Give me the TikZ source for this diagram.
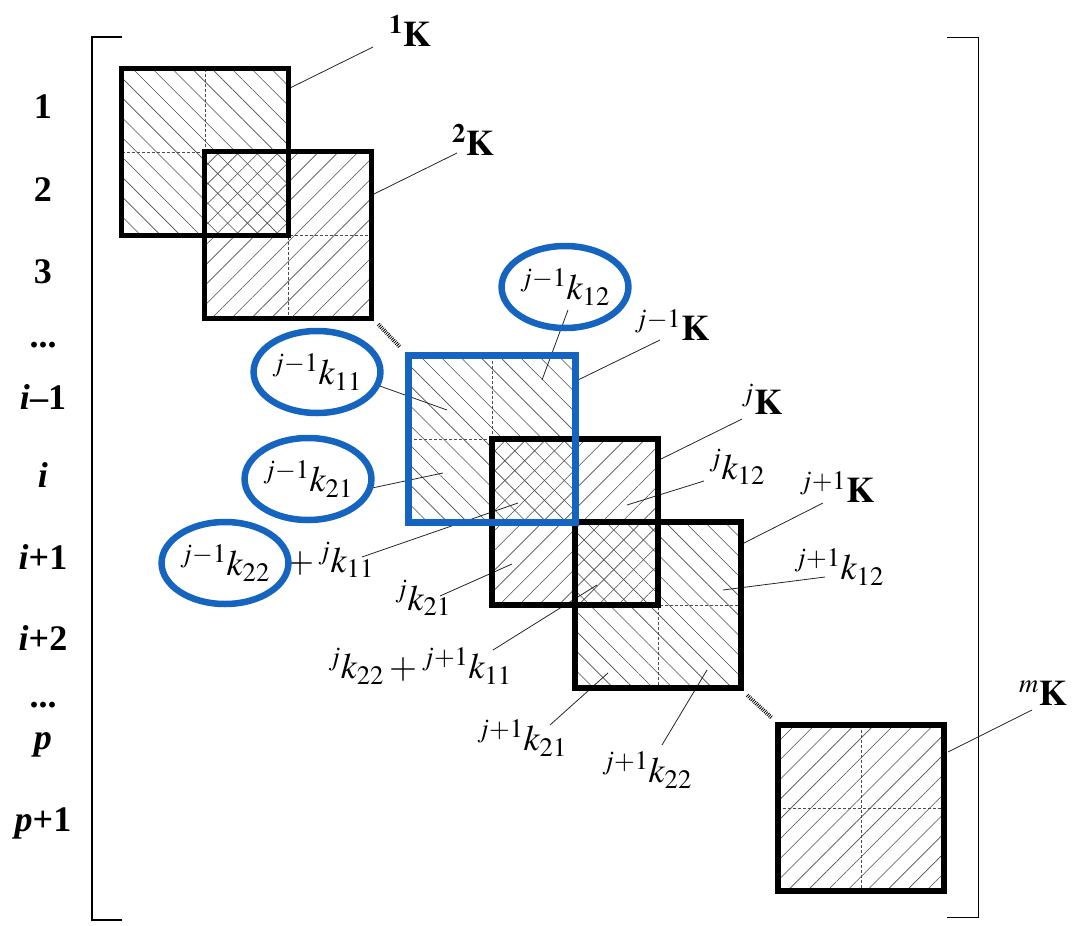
\documentclass[tikz,border=0pt]{standalone}
\usepackage{amsmath}
\usepackage{mathptmx}
\usepackage{fontspec}
\setmainfont{Liberation Serif}
\usetikzlibrary{patterns.meta, shapes.geometric}
\definecolor{bleuK}{RGB}{21,101,192}

\begin{document}
\begin{tikzpicture}[x=1pt, y=-1pt,
    carre/.style={minimum size=166pt, inner sep=0pt, pattern color=black!70},
    descend/.style={pattern={Lines[angle=-45, distance=14pt, line width=0.6pt]}},
    monte/.style={pattern={Lines[angle=45, distance=14pt, line width=0.6pt]}},
    separ/.style={densely dashed, line width=0.6pt, black!70},
    bord/.style={line width=5.5pt},
    renvoi/.style={line width=0.8pt, black!85},
    suite/.style={line width=4pt, dash pattern=on 0.8pt off 1.2pt},
    rang/.style={inner sep=0pt, font=\fontsize{36}{40}\selectfont\bfseries},
    etiq/.style={inner sep=0pt, font=\fontsize{36}{40}\selectfont},
    ovale/.style={ellipse, draw=bleuK, line width=6.5pt, minimum width=118pt,
        minimum height=82pt, inner sep=0pt, font=\fontsize{36}{40}\selectfont}]
    \useasboundingbox (0,0) rectangle (1082,926);

    % Crochets de la matrice
    \draw[line width=2.5pt] (122,37) -- (92,37) -- (92,920) -- (122,920);
    \draw[line width=1pt] (947,37) -- (978,37) -- (978,917) -- (947,917);

    % Numeros des lignes
    \node[rang] (r1) at (43,107) {1};
    \node[rang] (r2) at (43,190) {2};
    \node[rang] (r3) at (43,272) {3};
    \node[rang, anchor=base] (r4) at (43,347) {...};
    \node[rang] (r5) at (43,397) {\textit{i}--1};
    \node[rang] (r6) at (43,475) {\textit{i}};
    \node[rang] (r7) at (43,557) {\textit{i}+1};
    \node[rang] (r8) at (43,638) {\textit{i}+2};
    \node[rang, anchor=base] (r9) at (43,707) {...};
    \node[rang] (r10) at (43,745) {\textit{p}};
    \node[rang] (r11) at (43,823) {\textit{p}+1};

    % Matrices elementaires (hachures)
    \node[carre, descend] (K1) at (205,152) {};
    \node[carre, monte] (K2) at (288,235) {};
    \node[carre, descend] (Kjm) at (492,439) {};
    \node[carre, monte] (Kj) at (575,522) {};
    \node[carre, descend] (Kjp) at (658,605) {};
    \node[carre, monte] (Km) at (861,808) {};

    % Separations en blocs
    \draw[separ] (K1.north) -- (K1.south) (K1.west) -- (K1.east);
    \draw[separ] (K2.north) -- (K2.south) (K2.west) -- (K2.east);
    \draw[separ] (Kjm.north) -- (Kjm.south) (Kjm.west) -- (Kjm.east);
    \draw[separ] (Kj.north) -- (Kj.south) (Kj.west) -- (Kj.east);
    \draw[separ] (Kjp.north) -- (Kjp.south) (Kjp.west) -- (Kjp.east);
    \draw[separ] (Km.north) -- (Km.south) (Km.west) -- (Km.east);

    % Points vises par les renvois
    \coordinate (ptK1) at (290,88);
    \coordinate (ptK2) at (372,195);
    \coordinate (ptKjm) at (578,380);
    \coordinate (ptKj) at (659,460);
    \coordinate (ptjk12) at (627,505);
    \coordinate (ptKjp) at (742,544);
    \coordinate (ptjpk12) at (723,590);
    \coordinate (ptKm) at (948,752);
    \coordinate (pt12) at (542,380);
    \coordinate (pt11) at (447,410);
    \coordinate (pt21) at (443,473);
    \coordinate (ptplus) at (518,503);
    \coordinate (ptjk21) at (512,564);
    \coordinate (ptsom) at (597,585);
    \coordinate (ptjpk21) at (608,673);
    \coordinate (ptjpk22) at (707,670);

    % Etiquettes
    \node[etiq] (lK1) at (410,31) {${}^{\mathbf{1}}\mathbf{K}$};
    \node[etiq] (lK2) at (473,140) {${}^{\mathbf{2}}\mathbf{K}$};
    \node[etiq] (lKjm) at (672,325) {${}^{j-1}\mathbf{K}$};
    \node[etiq] (lKj) at (762,399) {${}^{j}\mathbf{K}$};
    \node[etiq] (lKjp) at (837,487) {${}^{\boldsymbol{j+1}}\mathbf{K}$};
    \node[etiq] (lKm) at (1043,693) {${}^{\boldsymbol{m}}\mathbf{K}$};
    \node[etiq] (ljk12) at (737,467) {${}^{j}k_{12}$};
    \node[etiq] (ljpk12) at (839,567) {${}^{j+1}k_{12}$};
    \node[etiq] (ljk21) at (423,598) {${}^{j}k_{21}$};
    \node[etiq] (lsom) at (420,666) {${}^{j}k_{22}+{}^{j+1}k_{11}$};
    \node[etiq] (ljpk21) at (522,738) {${}^{j+1}k_{21}$};
    \node[etiq] (ljpk22) at (647,770) {${}^{j+1}k_{22}$};
    \node[etiq] (lplus) at (330,560) {$+\,{}^{j}k_{11}$};

    % Renvois
    \draw[renvoi] ([shift={(-37,16)}]lK1.center) -- (ptK1);
    \draw[renvoi] ([shift={(-16,13)}]lK2.center) -- (ptK2);
    \draw[renvoi] ([shift={(-12,15)}]lKjm.center) -- (ptKjm);
    \draw[renvoi] ([shift={(-20,20)}]lKj.center) -- (ptKj);
    \draw[renvoi] ([shift={(-33,14)}]ljk12.center) -- (ptjk12);
    \draw[renvoi] ([shift={(-14,16)}]lKjp.center) -- (ptKjp);
    \draw[renvoi] ([shift={(-14,10)}]ljpk12.center) -- (ptjpk12);
    \draw[renvoi] ([shift={(-11,17)}]lKm.center) -- (ptKm);
    \draw[renvoi] ([shift={(3,23)}]565,287) -- (pt12);
    \draw[renvoi] ([shift={(60,13)}]317,372) -- (pt11);
    \draw[renvoi] ([shift={(64,9)}]308,479) -- (pt21);
    \draw[renvoi] ([shift={(32,-3)}]lplus.center) -- (ptplus);
    \draw[renvoi] ([shift={(17,-2)}]ljk21.center) -- (ptjk21);
    \draw[renvoi] ([shift={(73,-16)}]lsom.center) -- (ptsom);
    \draw[renvoi] ([shift={(28,-13)}]ljpk21.center) -- (ptjpk21);
    \draw[renvoi] ([shift={(15,-25)}]ljpk22.center) -- (ptjpk22);

    % Bords des matrices
    \draw[bord] (K1.north west) rectangle (K1.south east);
    \draw[bord] (K2.north west) rectangle (K2.south east);
    \draw[bord] (Kj.north west) rectangle (Kj.south east);
    \draw[bord] (Kjp.north west) rectangle (Kjp.south east);
    \draw[bord] (Km.north west) rectangle (Km.south east);
    \draw[bord, bleuK, line width=7pt] (Kjm.north west) rectangle (Kjm.south east);

    % Pointilles de continuite
    \draw[suite] ([shift={(7,6)}]K2.south east) -- ([shift={(-9,-9)}]Kjm.north west);
    \draw[suite] ([shift={(6,7)}]Kjp.south east) -- ([shift={(-6,-7)}]Km.north west);

    % Termes entoures
    \node[ovale] (e12) at (565,287) {${}^{j-1}k_{12}$};
    \node[ovale] (e11) at (317,372) {${}^{j-1}k_{11}$};
    \node[ovale] (e21) at (308,479) {${}^{j-1}k_{21}$};
    \node[ovale] (e22) at (225,563) {${}^{j-1}k_{22}$};
\end{tikzpicture}
\end{document}
